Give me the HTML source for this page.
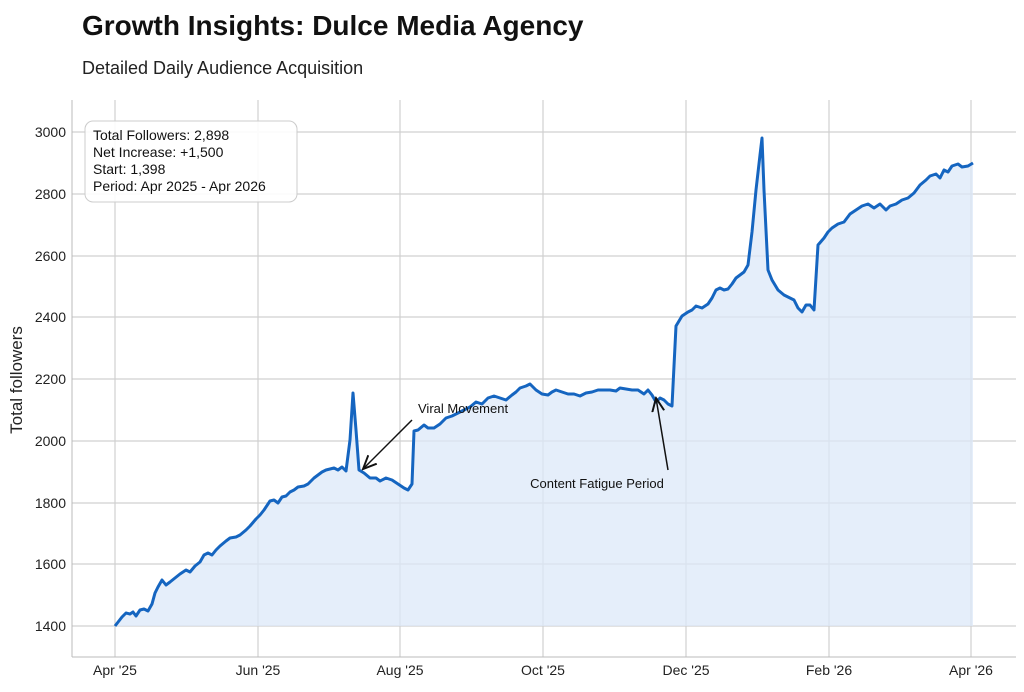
<!DOCTYPE html>
<html><head><meta charset="utf-8"><style>
body{margin:0;background:#fff;font-family:"Liberation Sans",sans-serif}
</style></head><body>
<svg width="1024" height="687" xmlns="http://www.w3.org/2000/svg" font-family="Liberation Sans, sans-serif">
<rect width="1024" height="687" fill="#fff"/>
<text x="82" y="35" font-size="28" font-weight="bold" fill="#111">Growth Insights: Dulce Media Agency</text>
<text x="82" y="74" font-size="18" fill="#222">Detailed Daily Audience Acquisition</text>
<g stroke="#d0d0d0" stroke-width="1.2">
<line x1="72" x2="1016" y1="132" y2="132"/><line x1="72" x2="1016" y1="194" y2="194"/>
<line x1="72" x2="1016" y1="256" y2="256"/><line x1="72" x2="1016" y1="317" y2="317"/>
<line x1="72" x2="1016" y1="379" y2="379"/><line x1="72" x2="1016" y1="441" y2="441"/>
<line x1="72" x2="1016" y1="503" y2="503"/><line x1="72" x2="1016" y1="564" y2="564"/>
<line x1="72" x2="1016" y1="626" y2="626"/>
<line x1="115" x2="115" y1="100" y2="657"/><line x1="258" x2="258" y1="100" y2="657"/>
<line x1="400" x2="400" y1="100" y2="657"/><line x1="543" x2="543" y1="100" y2="657"/>
<line x1="686" x2="686" y1="100" y2="657"/><line x1="829" x2="829" y1="100" y2="657"/>
<line x1="971" x2="971" y1="100" y2="657"/>
</g>
<line x1="72" x2="72" y1="100" y2="657" stroke="#bbb"/>
<line x1="72" x2="1016" y1="657" y2="657" stroke="#bbb"/>
<g font-size="14" fill="#222" text-anchor="end">
<text x="66" y="137">3000</text><text x="66" y="199">2800</text><text x="66" y="261">2600</text>
<text x="66" y="322">2400</text><text x="66" y="384">2200</text><text x="66" y="446">2000</text>
<text x="66" y="508">1800</text><text x="66" y="569">1600</text><text x="66" y="631">1400</text>
</g>
<g font-size="14" fill="#222" text-anchor="middle">
<text x="115" y="675">Apr '25</text><text x="258" y="675">Jun '25</text><text x="400" y="675">Aug '25</text>
<text x="543" y="675">Oct '25</text><text x="686" y="675">Dec '25</text><text x="829" y="675">Feb '26</text>
<text x="971" y="675">Apr '26</text>
</g>
<text transform="translate(22,380) rotate(-90)" font-size="17" fill="#222" text-anchor="middle">Total followers</text>
<defs><polyline id="d" points="115,626 122,617 126,613 130,614 133,612 136,616 140,610 144,609 148,611 152,604 155,593 158,587 162,580 166,585 170,582 175,578 180,574 186,570 190,572 195,566 200,562 204,555 208,553 212,555 216,550 220,546 226,541 230,538 236,537 240,535 246,530 250,526 256,519 260,515 264,510 270,501 274,500 278,503 282,497 286,496 290,492 294,490 298,487 304,486 308,484 314,478 318,475 322,472 326,470 330,469 334,468 338,470 342,467 346,471 350,440 353,393 356,430 359,470 364,473 370,478 376,478 380,481 386,478 392,480 398,484 404,488 408,490 412,484 414,431 418,430 424,425 428,428 434,428 440,424 446,418 452,416 458,413 464,410 470,407 476,402 482,404 488,398 494,396 500,398 506,400 512,395 516,392 520,388 526,386 530,384 536,390 542,394 548,395 552,392 556,390 562,392 568,394 574,394 580,396 586,393 592,392 598,390 604,390 610,390 616,391 620,388 626,389 632,390 638,390 644,394 648,390 652,395 656,402 660,398 664,400 668,404 672,406 676,326 682,316 688,312 692,310 696,306 702,308 708,304 712,298 716,290 720,288 724,290 728,289 732,284 736,278 740,275 744,272 748,265 752,232 756,190 760,155 762,138 764,190 768,270 772,280 778,290 784,295 790,298 794,300 798,308 802,312 806,305 810,305 814,310 818,245 824,238 828,232 832,228 838,224 844,222 850,214 856,210 862,206 868,204 874,208 880,204 886,210 890,206 896,204 902,200 908,198 914,193 920,185 926,180 930,176 936,174 940,178 944,170 948,172 952,166 958,164 962,167 968,166 973,163"/></defs>
<polygon fill="#dce8f8" fill-opacity="0.75" points="115,626 122,617 126,613 130,614 133,612 136,616 140,610 144,609 148,611 152,604 155,593 158,587 162,580 166,585 170,582 175,578 180,574 186,570 190,572 195,566 200,562 204,555 208,553 212,555 216,550 220,546 226,541 230,538 236,537 240,535 246,530 250,526 256,519 260,515 264,510 270,501 274,500 278,503 282,497 286,496 290,492 294,490 298,487 304,486 308,484 314,478 318,475 322,472 326,470 330,469 334,468 338,470 342,467 346,471 350,440 353,393 356,430 359,470 364,473 370,478 376,478 380,481 386,478 392,480 398,484 404,488 408,490 412,484 414,431 418,430 424,425 428,428 434,428 440,424 446,418 452,416 458,413 464,410 470,407 476,402 482,404 488,398 494,396 500,398 506,400 512,395 516,392 520,388 526,386 530,384 536,390 542,394 548,395 552,392 556,390 562,392 568,394 574,394 580,396 586,393 592,392 598,390 604,390 610,390 616,391 620,388 626,389 632,390 638,390 644,394 648,390 652,395 656,402 660,398 664,400 668,404 672,406 676,326 682,316 688,312 692,310 696,306 702,308 708,304 712,298 716,290 720,288 724,290 728,289 732,284 736,278 740,275 744,272 748,265 752,232 756,190 760,155 762,138 764,190 768,270 772,280 778,290 784,295 790,298 794,300 798,308 802,312 806,305 810,305 814,310 818,245 824,238 828,232 832,228 838,224 844,222 850,214 856,210 862,206 868,204 874,208 880,204 886,210 890,206 896,204 902,200 908,198 914,193 920,185 926,180 930,176 936,174 940,178 944,170 948,172 952,166 958,164 962,167 968,166 973,163 973,626"/>
<use href="#d" fill="none" stroke="#1565c0" stroke-width="3" stroke-linejoin="round"/>
<rect x="85" y="121" width="212" height="81" rx="8" fill="#fff" fill-opacity="0.9" stroke="#ccc"/>
<g font-size="14" fill="#111"><text x="93" y="140">Total Followers: 2,898</text><text x="93" y="157">Net Increase: +1,500</text><text x="93" y="174">Start: 1,398</text><text x="93" y="191">Period: Apr 2025 - Apr 2026</text></g>
<defs><marker id="a" markerWidth="10" markerHeight="10" refX="9" refY="5" orient="auto"><path d="M0,1 L9,5 L0,9" fill="none" stroke="#111" stroke-width="1.3"/></marker></defs>
<line x1="412" y1="420" x2="363" y2="469" stroke="#111" stroke-width="1.5" marker-end="url(#a)"/>
<text x="418" y="413" font-size="13" fill="#111">Viral Movement</text>
<line x1="668" y1="470" x2="656" y2="398" stroke="#111" stroke-width="1.5" marker-end="url(#a)"/>
<text x="597" y="488" font-size="13" fill="#111" text-anchor="middle">Content Fatigue Period</text>
</svg>
</body></html>
